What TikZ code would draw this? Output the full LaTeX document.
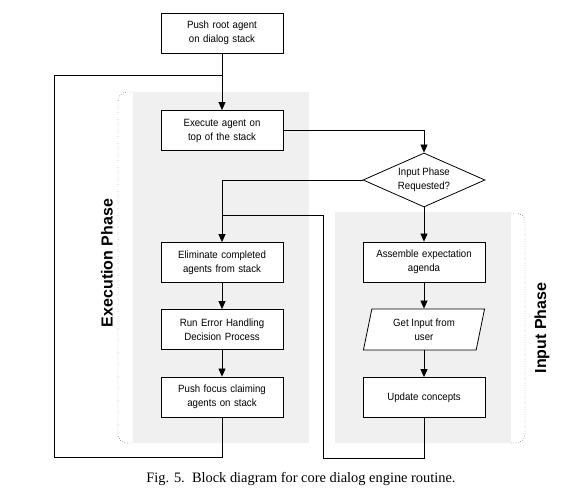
\documentclass[tikz,border=0pt]{standalone}
\usepackage{fontspec}
\setmainfont{Liberation Sans}[FakeStretch=0.92]
\newfontfamily\phasefont{Liberation Sans}
\newfontfamily\capfont{Liberation Serif}
\usetikzlibrary{shapes.geometric,arrows.meta}
\definecolor{phasegray}{RGB}{240,240,240}
\tikzset{
 stepbox/.style={draw,thick,fill=white,minimum width=122pt,minimum height=40pt,
  text width=112pt,align=center,font=\fontsize{10.5}{14}\selectfont},
 askbox/.style={draw,thick,fill=white,diamond,aspect=2.26,inner sep=0pt,
  minimum width=122pt,minimum height=54pt,align=center,font=\fontsize{10.5}{14}\selectfont},
 iobox/.style={draw,thick,fill=white,trapezium,trapezium left angle=79,
  trapezium right angle=101,trapezium stretches=true,minimum width=122pt,
  minimum height=41pt,align=center,font=\fontsize{10.5}{14}\selectfont},
 flow/.style={thick,-{Triangle[length=8pt,width=7pt]}},
 phaselabel/.style={rotate=90,font=\phasefont\fontsize{16}{18}\bfseries\selectfont}
}
\begin{document}
\begin{tikzpicture}[x=1pt,y=-1pt]
\useasboundingbox (0,0) rectangle (582,500);
\fill[phasegray] (133,92) rectangle (309,443);
\fill[phasegray] (335,212) rectangle (511,443);
\draw[dotted,rounded corners=9pt] (133,92) -- (118,92) -- (118,443) -- (133,443);
\draw[dotted,rounded corners=9pt] (511,213) -- (525,213) -- (525,443) -- (511,443);
\node[phaselabel] (execlabel) at (107,263) {Execution Phase};
\node[phaselabel] (inputlabel) at (542,328) {Input Phase};

\node[stepbox] (push) at (222,33) {Push root agent\\on dialog stack};
\node[stepbox] (exec) at (222,130.5) {Execute agent on\\top of the stack};
\node[askbox] (ask) at (424,180) {Input Phase\\Requested?};
\node[stepbox] (elim) at (222,262.5) {Eliminate completed\\agents from stack};
\node[stepbox] (run) at (222,329.5) {Run Error Handling\\Decision Process};
\node[stepbox] (focus) at (222,397) {Push focus claiming\\agents on stack};
\node[stepbox] (assemble) at (424,262) {Assemble expectation\\agenda};
\node[iobox] (getin) at (424,329.5) {Get Input from\\user};
\node[stepbox] (update) at (424,397.5) {Update concepts};

\coordinate (execback) at (54,457);
\coordinate (execjoin) at (222,75);
\coordinate (inputback) at (323,458);
\coordinate (inputjoin) at (222,215);

\draw[flow] (push) -- (exec);
\draw[flow] (exec.east) -| (ask.north);
\draw[flow] (ask.west) -| (elim.north);
\draw[flow] (ask.south) -- (assemble.north);
\draw[flow] (elim) -- (run);
\draw[flow] (run) -- (focus);
\draw[flow] (assemble.south) -- (assemble.south |- getin.top side);
\draw[flow] (update.north |- getin.bottom side) -- (update.north);
\draw[thick] (focus.south) |- (execback) |- (execjoin);
\draw[thick] (update.south) |- (inputback) |- (inputjoin);

\node[font=\capfont\fontsize{14.4}{16}\selectfont] (caption) at (301,479)
 {Fig. 5.\ \ Block diagram for core dialog engine routine.};
\end{tikzpicture}
\end{document}
